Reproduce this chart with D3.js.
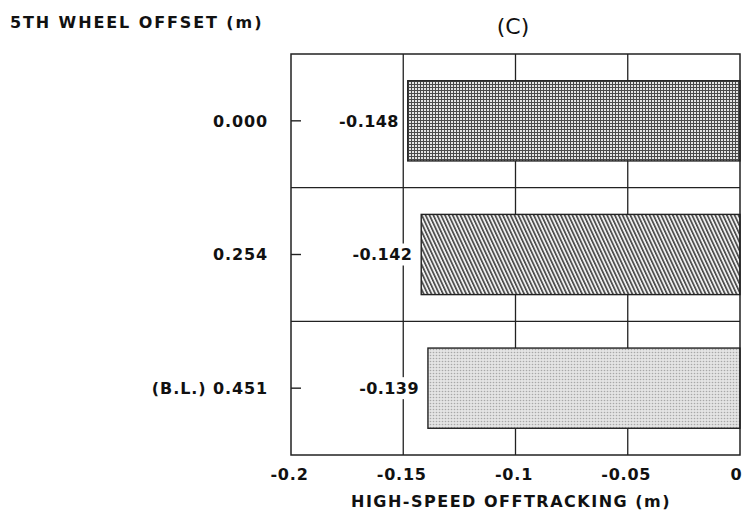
<!DOCTYPE html>
<html>
<head>
<meta charset="utf-8">
<script src="https://cdn.jsdelivr.net/npm/d3@7"></script>
<style>
  html, body { margin: 0; padding: 0; background: #fff; }
  svg { display: block; }
  text { font-family: "DejaVu Sans", sans-serif; fill: #111; }
</style>
</head>
<body>
<svg id="chart" width="744" height="516"></svg>
<script>
// ---- data ----
const categories = ["0.000", "0.254", "(B.L.) 0.451"];
const values = [-0.148, -0.142, -0.139];
const valueLabels = ["-0.148", "-0.142", "-0.139"];
const tickValues = [-0.2, -0.15, -0.1, -0.05, 0];
const tickLabels = ["-0.2", "-0.15", "-0.1", "-0.05", "0"];
const patterns = ["grid", "diag", "dots"];

const svg = d3.select("#chart");
const plotL = 291, plotR = 740, plotT = 54, plotB = 455;

const x = d3.scaleLinear().domain([-0.2, 0]).range([plotL, plotR]);
const y = d3.scaleBand().domain(categories).range([plotT, plotB])
  .paddingInner(0.4).paddingOuter(0.2);

// ---- patterns ----
const defs = svg.append("defs");
const p1 = defs.append("pattern").attr("id", "grid").attr("patternUnits", "userSpaceOnUse")
  .attr("width", 3).attr("height", 3);
p1.append("rect").attr("width", 3).attr("height", 3).attr("fill", "#e4e4e4");
p1.append("rect").attr("x", 0).attr("y", 0).attr("width", 3).attr("height", 1).attr("fill", "#4a4a4a");
p1.append("rect").attr("x", 0).attr("y", 0).attr("width", 1).attr("height", 3).attr("fill", "#4a4a4a");
const p2 = defs.append("pattern").attr("id", "diag").attr("patternUnits", "userSpaceOnUse")
  .attr("width", 3.5).attr("height", 3.5)
  .attr("patternTransform", "rotate(-25)");
p2.append("rect").attr("width", 3.5).attr("height", 3.5).attr("fill", "#eee");
p2.append("rect").attr("x", 0).attr("y", 0).attr("width", 1.6).attr("height", 3.5).attr("fill", "#444");
const p3 = defs.append("pattern").attr("id", "dots").attr("patternUnits", "userSpaceOnUse")
  .attr("width", 3).attr("height", 3);
p3.append("rect").attr("width", 3).attr("height", 3).attr("fill", "#e4e4e4");
p3.append("circle").attr("cx", 1.5).attr("cy", 1.5).attr("r", 0.8).attr("fill", "#a8a8a8");

// ---- gridlines (vertical, full height) ----
svg.append("g").selectAll("line").data(tickValues.slice(1, -1)).join("line")
  .attr("x1", d => x(d)).attr("x2", d => x(d))
  .attr("y1", plotT).attr("y2", plotB)
  .attr("stroke", "#222").attr("stroke-width", 1.3);

// band separators
const step = y.step();
svg.append("g").selectAll("line").data(categories.slice(1)).join("line")
  .attr("x1", plotL).attr("x2", plotR)
  .attr("y1", d => y(d) - step * y.paddingInner() / 2)
  .attr("y2", d => y(d) - step * y.paddingInner() / 2)
  .attr("stroke", "#222").attr("stroke-width", 1.4);

// ---- bars ----
svg.append("g").selectAll("rect").data(categories).join("rect")
  .attr("x", (d, i) => x(values[i]))
  .attr("y", d => y(d))
  .attr("width", (d, i) => x(0) - x(values[i]))
  .attr("height", y.bandwidth())
  .attr("fill", (d, i) => `url(#${patterns[i]})`)
  .attr("stroke", "#222").attr("stroke-width", 1.4);

// value labels with white background
const vl = svg.append("g").selectAll("g").data(categories).join("g");
vl.append("rect")
  .attr("x", (d, i) => x(values[i]) - 70)
  .attr("y", d => y(d) + y.bandwidth() / 2 - 11)
  .attr("width", 64).attr("height", 22).attr("fill", "#fff");
vl.append("text")
  .attr("x", (d, i) => x(values[i]) - 9)
  .attr("y", d => y(d) + y.bandwidth() / 2)
  .attr("dy", "0.36em")
  .attr("text-anchor", "end")
  .attr("font-size", 16).attr("font-weight", "bold").attr("letter-spacing", "0.4px")
  .text((d, i) => valueLabels[i]);

// ---- frame ----
svg.append("rect").attr("x", plotL).attr("y", plotT)
  .attr("width", plotR - plotL).attr("height", plotB - plotT)
  .attr("fill", "none").attr("stroke", "#222").attr("stroke-width", 1.5);

// ---- y axis: inward ticks + labels ----
svg.append("g").selectAll("line").data(categories).join("line")
  .attr("x1", plotL).attr("x2", plotL + 10)
  .attr("y1", d => y(d) + y.bandwidth() / 2)
  .attr("y2", d => y(d) + y.bandwidth() / 2)
  .attr("stroke", "#222").attr("stroke-width", 1.4);
svg.append("g").selectAll("text").data(categories).join("text")
  .attr("x", 268)
  .attr("y", d => y(d) + y.bandwidth() / 2)
  .attr("dy", "0.36em")
  .attr("text-anchor", "end")
  .attr("font-size", 16).attr("font-weight", "bold").attr("letter-spacing", "0.9px")
  .text(d => d);

// ---- x axis ----
const xAxis = d3.axisBottom(x).tickValues(tickValues)
  .tickFormat((d, i) => tickLabels[i]).tickSize(0).tickPadding(14);
const gx = svg.append("g").attr("transform", `translate(0,${plotB})`).call(xAxis);
gx.select(".domain").remove();
gx.selectAll(".tick text")
  .attr("font-family", "DejaVu Sans, sans-serif")
  .attr("font-size", 16).attr("font-weight", "bold").attr("fill", "#111")
  .attr("letter-spacing", "0.8px")
  .attr("dx", (d, i) => i === tickValues.length - 1 ? -4 : -2);

// axis title
svg.append("text").attr("x", 511).attr("y", 507)
  .attr("text-anchor", "middle").attr("font-size", 16).attr("font-weight", "bold")
  .attr("letter-spacing", "1.5px")
  .text("HIGH-SPEED OFFTRACKING (m)");

// y title
svg.append("text").attr("x", 10).attr("y", 28)
  .attr("font-size", 16).attr("font-weight", "bold").attr("letter-spacing", "1.9px")
  .text("5TH WHEEL OFFSET (m)");

// chart title
svg.append("text").attr("x", 513).attr("y", 34)
  .attr("text-anchor", "middle").attr("font-size", 22)
  .text("(C)");
</script>
</body>
</html>
